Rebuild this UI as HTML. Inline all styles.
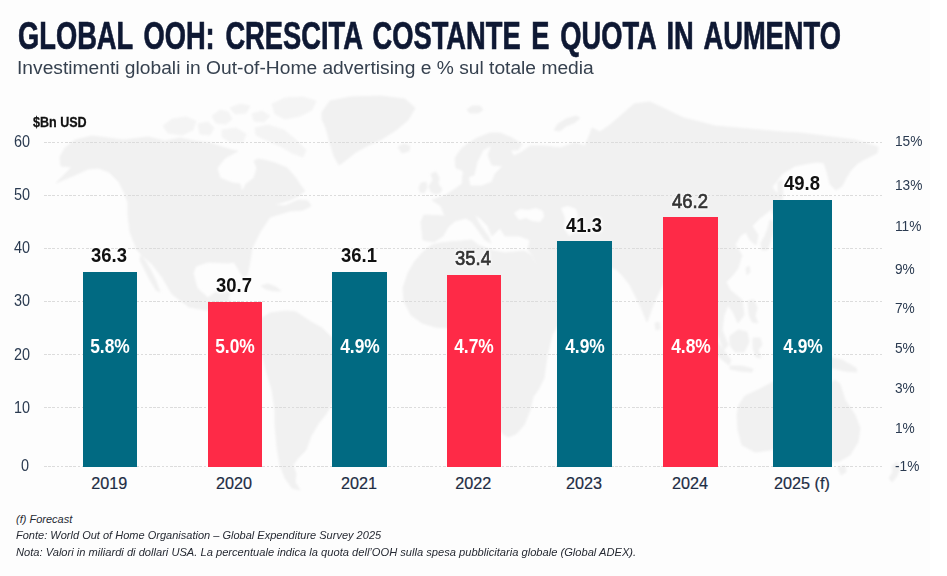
<!DOCTYPE html>
<html><head><meta charset="utf-8">
<style>
html,body{margin:0;padding:0;}
body{width:947px;height:576px;background:#fff;position:relative;overflow:hidden;font-family:"Liberation Sans",sans-serif;}
#bg{position:absolute;left:0;top:0;width:930px;height:576px;background:#fdfdfd;}
.abs{position:absolute;white-space:nowrap;}
#title{left:18.1px;top:14.9px;font-size:39.3px;font-weight:bold;color:#0e1833;transform-origin:0 0;transform:scaleX(0.6945);line-height:40px;word-spacing:4.5px;-webkit-text-stroke:0.7px #0e1833;}
#sub{left:17.2px;top:57.8px;font-size:17.5px;color:#36414f;line-height:20px;transform-origin:0 0;transform:scaleX(1.098);}
#unit{left:33px;top:112px;font-size:15.3px;font-weight:bold;color:#111;line-height:20px;transform-origin:0 0;transform:scaleX(0.82);-webkit-text-stroke:0.3px #111;}
.yl{left:0;width:30px;text-align:right;font-size:16px;color:#2a3a50;line-height:16px;transform-origin:100% 50%;transform:scaleX(0.9);}
.yr{left:895px;font-size:15.4px;color:#2a3a50;line-height:16px;transform-origin:0 50%;transform:scaleX(0.89);}
.grid{position:absolute;left:43.5px;width:840px;height:1px;background:repeating-linear-gradient(90deg,#dcdcdc 0,#dcdcdc 2.6px,rgba(0,0,0,0) 2.6px,rgba(0,0,0,0) 4.2px);}
.bar{position:absolute;}
.t{background:#016a82;}
.r{background:#fe2a47;}
.val{font-size:20.5px;font-weight:bold;color:#111;text-align:center;width:90px;line-height:20px;transform:scaleX(0.9);text-shadow:0 0 2px #fdfdfd,0 0 3px #fdfdfd,0 0 4px #fdfdfd,0 0 5px #fdfdfd;}
.val.m{font-weight:normal;color:#333;-webkit-text-stroke:0.7px #333;margin:0 0 0 0;}
.pct{font-size:20px;font-weight:bold;color:#fff;text-align:center;width:90px;line-height:20px;transform:scaleX(0.87);}
.xl{font-size:16.2px;color:#1d2d44;text-align:center;width:110px;line-height:20px;-webkit-text-stroke:0.2px #1d2d44;margin-left:-0.6px;}
.fn{left:16px;font-size:11px;font-style:italic;color:#262a33;line-height:14px;transform-origin:0 0;}
</style></head><body>
<div id="bg"></div>
<svg id="map" width="947" height="576" viewBox="0 0 947 576" style="position:absolute;left:0;top:0">
<defs><filter id="bl" x="-5%" y="-5%" width="110%" height="110%"><feGaussianBlur stdDeviation="0.8"/></filter></defs>
<g filter="url(#bl)"><path d="M60,157 L65,148 L75,140 L92,136 L108,138 L123,140 L148,137 L165,141 L180,138 L195,141 L210,143 L222,147 L232,150 L238,151 L225,158 L217,168 L220,178 L232,183 L240,184 L242,192 L246,184 L254,178 L257,168 L254,161 L258,159 L264,160 L275,163 L287,168 L295,177 L301,186 L305,191 L298,196 L290,200 L280,203 L273,205 L285,206 L298,200 L308,201 L311,206 L303,210 L290,211 L280,214 L270,217 L260,232 L252,248 L250,261 L248,272 L245,280 L240,272 L234,262 L227,263 L208,262 L196,266 L193,273 L197,288 L208,298 L216,292 L222,288 L230,292 L228,300 L240,306 L252,314 L262,318 L256,324 L246,320 L236,313 L220,310 L205,310 L189,307 L172,294 L162,277 L152,264 L145,258 L137,250 L130,232 L128,215 L128,202 L124,192 L119,182 L109,172 L98,168 L88,169 L75,175 L56,183 L66,173 L72,167 L61,166Z M141,255 L146,262 L150,269 L156,281 L160,292 L156,290 L150,280 L145,270 L140,260Z M261,286 L268,284 L276,287 L281,291 L274,291 L266,289Z M322,112 L330,101 L350,97 L380,96 L405,99 L415,108 L408,120 L396,130 L382,139 L367,146 L356,152 L346,160 L339,165 L334,156 L330,143 L326,128 L322,119Z M398,147 L404,144 L410,146 L409,151 L402,153Z M262,318 L270,313 L286,311 L296,312 L311,322 L322,328 L331,337 L345,345 L353,352 L350,365 L344,380 L340,392 L333,402 L326,414 L318,424 L311,436 L306,450 L298,458 L293,465 L296,474 L295,482 L300,490 L292,488 L285,478 L280,465 L277,447 L275,425 L275,410 L272,390 L266,370 L262,352 L258,340 L256,330 L258,322Z M432,245 L440,243 L449,242 L462,241 L472,240 L478,245 L490,250 L505,253 L524,251 L531,255 L538,270 L545,284 L552,296 L560,302 L573,301 L563,316 L552,335 L547,356 L544,378 L538,390 L533,397 L530,410 L524,425 L516,434 L508,437 L502,433 L496,420 L490,400 L486,380 L480,362 L470,348 L463,336 L455,328 L447,328 L435,327 L422,323 L411,315 L404,301 L403,288 L408,273 L415,261 L424,251Z M423,240 L421,222 L424,215 L445,216 L441,206 L432,200 L446,195 L455,189 L462,184 L463,174 L468,176 L470,186 L482,186 L492,182 L495,174 L503,166 L492,165 L488,155 L492,145 L483,150 L477,162 L474,175 L466,178 L462,170 L456,168 L455,158 L462,148 L475,139 L490,133 L500,133 L512,138 L522,144 L518,150 L510,150 L514,156 L522,152 L530,146 L545,146 L560,148 L575,143 L585,146 L590,134 L592,128 L600,132 L610,125 L625,112 L634,104 L650,102 L663,108 L675,114 L684,118 L700,122 L715,126 L738,128 L760,130 L782,132 L800,133 L824,136 L855,140 L878,147 L877,153 L867,158 L858,163 L851,170 L846,178 L842,186 L836,190 L830,184 L827,172 L824,163 L818,162 L810,163 L795,166 L782,174 L776,182 L772,187 L778,195 L775,205 L768,212 L760,218 L752,226 L758,235 L756,245 L750,240 L746,232 L740,236 L735,245 L742,255 L738,268 L733,275 L726,282 L730,290 L742,300 L744,315 L738,323 L733,312 L728,305 L724,315 L722,330 L728,345 L724,350 L718,335 L712,318 L700,300 L690,285 L680,280 L664,282 L655,300 L647,322 L640,305 L630,285 L622,275 L617,270 L607,265 L600,262 L585,262 L575,258 L565,250 L560,245 L566,258 L575,265 L581,275 L572,290 L560,298 L552,300 L545,285 L538,268 L532,254 L528,250 L530,240 L520,236 L505,236 L500,228 L492,236 L488,226 L480,218 L474,214 L480,225 L488,236 L491,243 L485,240 L478,230 L472,222 L466,218 L455,221 L448,227 L443,236 L434,242 L428,241Z M431,192 L429,186 L433,180 L431,174 L436,172 L439,178 L438,184 L442,189 L440,193 L435,194Z M419,188 L421,183 L426,182 L427,188 L424,193 L420,192Z M467,110 L472,106 L480,106 L483,110 L478,113 L470,113Z M554,130 L558,124 L566,119 L576,116 L580,118 L574,123 L566,126 L560,131Z M762,250 L761,243 L765,236 L768,228 L770,220 L774,222 L773,232 L770,242 L767,250Z M772,207 L778,205 L781,211 L776,215 L772,213Z M778,182 L782,180 L783,195 L781,205 L778,203Z M746,268 L749,266 L750,272 L747,275Z M748,301 L754,300 L757,308 L755,316 L758,323 L752,322 L749,314Z M730,336 L738,330 L747,332 L749,342 L744,352 L735,352 L730,345Z M706,334 L712,336 L722,348 L731,360 L729,365 L720,358 L710,345Z M730,366 L742,366 L753,369 L752,372 L740,371 L730,369Z M753,338 L760,338 L762,345 L758,350 L761,358 L756,357 L753,348Z M800,355 L812,352 L828,357 L842,360 L856,368 L857,372 L845,371 L832,368 L818,366 L806,363Z M739,405 L745,396 L760,389 L775,381 L790,378 L800,373 L815,382 L825,388 L835,380 L840,384 L845,400 L855,415 L860,428 L858,442 L850,455 L838,462 L825,460 L815,452 L800,448 L785,445 L770,450 L755,452 L742,445 L738,430 L737,415Z M838,467 L845,466 L846,472 L841,475Z M892,466 L897,462 L900,468 L897,476 L892,482 L889,478 L893,472Z M655,323 L659,322 L660,329 L656,330Z" fill="#f1f1f1" stroke="#f1f1f1" stroke-width="1" stroke-linejoin="round"/>
<path d="M163,126 L172,119 L186,117 L196,121 L193,130 L182,135 L168,133Z M198,124 L208,122 L214,128 L210,135 L200,134Z M212,116 L220,110 L228,112 L232,119 L226,124 L216,123Z M272,104 L285,98 L303,97 L316,101 L312,110 L300,116 L285,119 L275,114Z M255,128 L268,125 L284,130 L296,140 L306,150 L303,157 L292,153 L280,146 L266,140 L256,135Z M230,108 L240,104 L250,106 L246,113 L235,114Z M252,114 L262,111 L270,116 L264,122 L254,121Z M222,130 L236,128 L246,134 L243,142 L230,142 L222,137Z" fill="#f4f4f4" stroke="#f4f4f4" stroke-width="1" stroke-linejoin="round"/>
<path d="M514,213 L520,209 L528,210 L536,208 L543,211 L544,217 L540,222 L532,221 L526,218 L519,220Z M561,208 L568,206 L576,209 L578,216 L573,222 L575,232 L569,236 L564,228 L565,218Z" fill="#fdfdfd"/></g>
</svg>

<div class="grid" style="top:142.0px"></div>
<div class="grid" style="top:195.0px"></div>
<div class="grid" style="top:248.0px"></div>
<div class="grid" style="top:301.0px"></div>
<div class="grid" style="top:354.3px"></div>
<div class="grid" style="top:407.0px"></div>
<div class="grid" style="top:466.1px"></div>
<div class="abs" id="title">GLOBAL OOH: CRESCITA COSTANTE E QUOTA IN AUMENTO</div>
<div class="abs" id="sub">Investimenti globali in Out-of-Home advertising e % sul totale media</div>
<div class="abs" id="unit">$Bn USD</div>
<div class="abs yl" id="yl0" style="top:134.1px">60</div>
<div class="abs yl" id="yl1" style="top:186.9px">50</div>
<div class="abs yl" id="yl2" style="top:240.1px">40</div>
<div class="abs yl" id="yl3" style="top:293.2px">30</div>
<div class="abs yl" id="yl4" style="top:346.6px">20</div>
<div class="abs yl" id="yl5" style="top:399.5px">10</div>
<div class="abs yl" id="yl6" style="top:458.1px;left:-1.2px">0</div>
<div class="abs yr" id="yr0" style="top:133.2px">15%</div>
<div class="abs yr" id="yr1" style="top:177.3px">13%</div>
<div class="abs yr" id="yr2" style="top:217.8px">11%</div>
<div class="abs yr" id="yr3" style="top:261.2px">9%</div>
<div class="abs yr" id="yr4" style="top:300.4px">7%</div>
<div class="abs yr" id="yr5" style="top:339.8px">5%</div>
<div class="abs yr" id="yr6" style="top:379.5px">3%</div>
<div class="abs yr" id="yr7" style="top:419.5px">1%</div>
<div class="abs yr" id="yr8" style="top:458.1px">-1%</div>
<div class="bar t" style="left:82.8px;top:271.8px;width:54.2px;height:195.2px"></div>
<div class="abs val" id="v0" style="left:64.2px;top:245.3px">36.3</div>
<div class="abs pct" id="p0" style="left:64.9px;top:335.6px">5.8%</div>
<div class="abs xl" id="x0" style="left:54.9px;top:473px">2019</div>
<div class="bar r" style="left:207.5px;top:301.7px;width:54.2px;height:165.3px"></div>
<div class="abs val" id="v1" style="left:188.9px;top:275.2px">30.7</div>
<div class="abs pct" id="p1" style="left:189.6px;top:335.6px">5.0%</div>
<div class="abs xl" id="x1" style="left:179.6px;top:473px">2020</div>
<div class="bar t" style="left:332.3px;top:271.8px;width:54.7px;height:195.2px"></div>
<div class="abs val" id="v2" style="left:313.9px;top:245.3px">36.1</div>
<div class="abs pct" id="p2" style="left:314.6px;top:335.6px">4.9%</div>
<div class="abs xl" id="x2" style="left:304.6px;top:473px">2021</div>
<div class="bar r" style="left:446.8px;top:274.9px;width:54.0px;height:192.1px"></div>
<div class="abs val m" id="v3" style="left:428.1px;top:248.4px">35.4</div>
<div class="abs pct" id="p3" style="left:428.8px;top:335.6px">4.7%</div>
<div class="abs xl" id="x3" style="left:418.8px;top:473px">2022</div>
<div class="bar t" style="left:557.0px;top:241.1px;width:55.1px;height:225.9px"></div>
<div class="abs val" id="v4" style="left:538.8px;top:214.6px">41.3</div>
<div class="abs pct" id="p4" style="left:539.5px;top:335.6px">4.9%</div>
<div class="abs xl" id="x4" style="left:529.5px;top:473px">2023</div>
<div class="bar r" style="left:663.0px;top:217.0px;width:55.0px;height:250.0px"></div>
<div class="abs val m" id="v5" style="left:644.8px;top:190.5px">46.2</div>
<div class="abs pct" id="p5" style="left:645.5px;top:335.6px">4.8%</div>
<div class="abs xl" id="x5" style="left:635.5px;top:473px">2024</div>
<div class="bar t" style="left:773.1px;top:199.5px;width:58.7px;height:267.5px"></div>
<div class="abs val" id="v6" style="left:756.8px;top:173.0px">49.8</div>
<div class="abs pct" id="p6" style="left:757.5px;top:335.6px">4.9%</div>
<div class="abs xl" id="x6" style="left:747.5px;top:473px">2025 (f)</div>
<div class="abs fn" id="f0" style="top:511.80px;transform:scaleX(1)">(f) Forecast</div>
<div class="abs fn" id="f1" style="top:528.20px;transform:scaleX(1.002)">Fonte: World Out of Home Organisation – Global Expenditure Survey 2025</div>
<div class="abs fn" id="f2" style="top:544.60px;transform:scaleX(1.0115)">Nota: Valori in miliardi di dollari USA. La percentuale indica la quota dell’OOH sulla spesa pubblicitaria globale (Global ADEX).</div>
</body></html>
